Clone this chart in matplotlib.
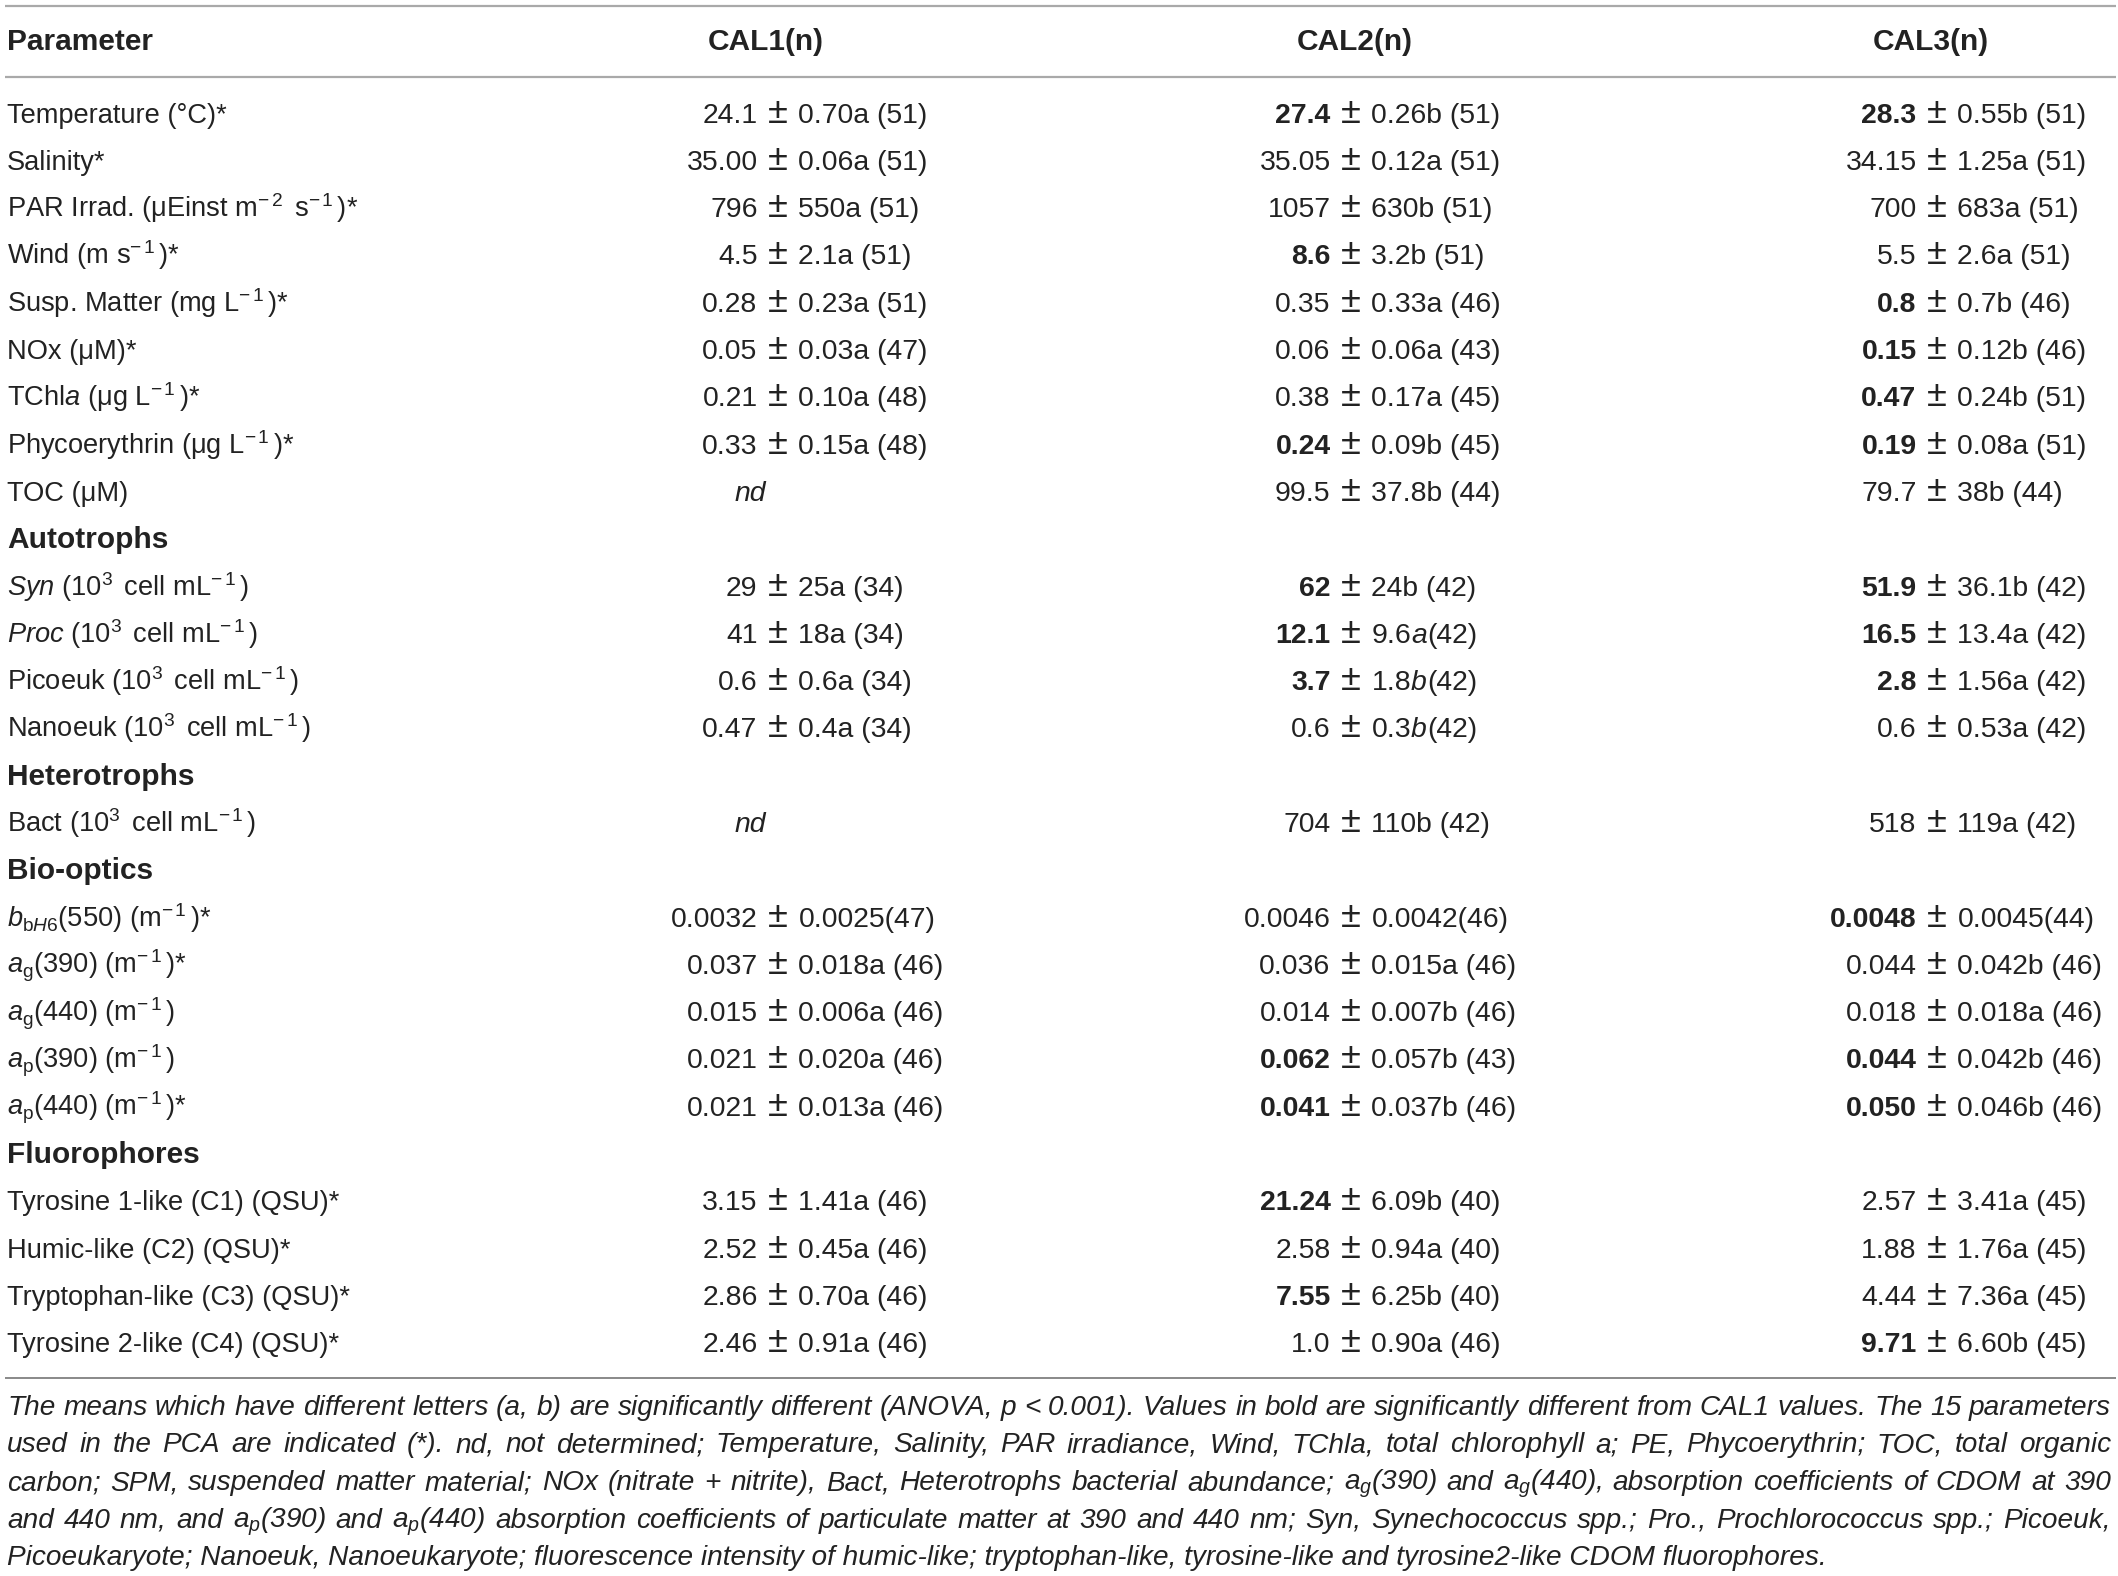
import matplotlib
matplotlib.use("Agg")
import matplotlib.pyplot as plt
import re

FONT = "Liberation Sans"
plt.rcParams['font.family'] = [FONT, 'DejaVu Sans']
plt.rcParams['mathtext.fontset'] = 'custom'
plt.rcParams['mathtext.rm'] = FONT
plt.rcParams['mathtext.it'] = FONT + ':italic'
plt.rcParams['mathtext.bf'] = FONT + ':bold'
plt.rcParams['mathtext.sf'] = FONT

# ---------------- data ----------------
headers = ["Parameter", "CAL1(n)", "CAL2(n)", "CAL3(n)"]

parameters = [
    "Temperature (°C)*",
    "Salinity*",
    r"PAR Irrad. (μEinst m$^{-\,2}\,$ s$^{-\,1}\,$)*",
    r"Wind (m s$^{-\,1}\,$)*",
    r"Susp. Matter (mg L$^{-\,1}\,$)*",
    "NOx (μM)*",
    r"TChl$\mathit{a}$ (μg L$^{-\,1}\,$)*",
    r"Phycoerythrin (μg L$^{-\,1}\,$)*",
    "TOC (μM)",
    "Autotrophs",
    r"$\mathit{Syn}$ (10$^{3}\,$ cell mL$^{-\,1}\,$)",
    r"$\mathit{Proc}$ (10$^{3}\,$ cell mL$^{-\,1}\,$)",
    r"Picoeuk (10$^{3}\,$ cell mL$^{-\,1}\,$)",
    r"Nanoeuk (10$^{3}\,$ cell mL$^{-\,1}\,$)",
    "Heterotrophs",
    r"Bact (10$^{3}\,$ cell mL$^{-\,1}\,$)",
    "Bio-optics",
    r"$\mathit{b}_{\mathrm{b}\mathit{H6}}$(550) (m$^{-\,1}\,$)*",
    r"$\mathit{a}_{\mathrm{g}}$(390) (m$^{-\,1}\,$)*",
    r"$\mathit{a}_{\mathrm{g}}$(440) (m$^{-\,1}\,$)",
    r"$\mathit{a}_{\mathrm{p}}$(390) (m$^{-\,1}\,$)",
    r"$\mathit{a}_{\mathrm{p}}$(440) (m$^{-\,1}\,$)*",
    "Fluorophores",
    "Tyrosine 1-like (C1) (QSU)*",
    "Humic-like (C2) (QSU)*",
    "Tryptophan-like (C3) (QSU)*",
    "Tyrosine 2-like (C4) (QSU)*",
]

sections = ["Autotrophs", "Heterotrophs", "Bio-optics", "Fluorophores"]

# "**x**" = bold mean, "*x*" = italic letter, "nd" = not determined
cal1 = [
    "24.1 ± 0.70a (51)", "35.00 ± 0.06a (51)", "796 ± 550a (51)", "4.5 ± 2.1a (51)",
    "0.28 ± 0.23a (51)", "0.05 ± 0.03a (47)", "0.21 ± 0.10a (48)", "0.33 ± 0.15a (48)",
    "nd",
    None,
    "29 ± 25a (34)", "41 ± 18a (34)", "0.6 ± 0.6a (34)", "0.47 ± 0.4a (34)",
    None,
    "nd",
    None,
    "0.0032 ± 0.0025(47)", "0.037 ± 0.018a (46)", "0.015 ± 0.006a (46)",
    "0.021 ± 0.020a (46)", "0.021 ± 0.013a (46)",
    None,
    "3.15 ± 1.41a (46)", "2.52 ± 0.45a (46)", "2.86 ± 0.70a (46)", "2.46 ± 0.91a (46)",
]

cal2 = [
    "**27.4** ± 0.26b (51)", "35.05 ± 0.12a (51)", "1057 ± 630b (51)", "**8.6** ± 3.2b (51)",
    "0.35 ± 0.33a (46)", "0.06 ± 0.06a (43)", "0.38 ± 0.17a (45)", "**0.24** ± 0.09b (45)",
    "99.5 ± 37.8b (44)",
    None,
    "**62** ± 24b (42)", "**12.1** ± 9.6*a*(42)", "**3.7** ± 1.8*b*(42)", "0.6 ± 0.3*b*(42)",
    None,
    "704 ± 110b (42)",
    None,
    "0.0046 ± 0.0042(46)", "0.036 ± 0.015a (46)", "0.014 ± 0.007b (46)",
    "**0.062** ± 0.057b (43)", "**0.041** ± 0.037b (46)",
    None,
    "**21.24** ± 6.09b (40)", "2.58 ± 0.94a (40)", "**7.55** ± 6.25b (40)", "1.0 ± 0.90a (46)",
]

cal3 = [
    "**28.3** ± 0.55b (51)", "34.15 ± 1.25a (51)", "700 ± 683a (51)", "5.5 ± 2.6a (51)",
    "**0.8** ± 0.7b (46)", "**0.15** ± 0.12b (46)", "**0.47** ± 0.24b (51)", "**0.19** ± 0.08a (51)",
    "79.7 ± 38b (44)",
    None,
    "**51.9** ± 36.1b (42)", "**16.5** ± 13.4a (42)", "**2.8** ± 1.56a (42)", "0.6 ± 0.53a (42)",
    None,
    "518 ± 119a (42)",
    None,
    "**0.0048** ± 0.0045(44)", "0.044 ± 0.042b (46)", "0.018 ± 0.018a (46)",
    "**0.044** ± 0.042b (46)", "**0.050** ± 0.046b (46)",
    None,
    "2.57 ± 3.41a (45)", "1.88 ± 1.76a (45)", "4.44 ± 7.36a (45)", "**9.71** ± 6.60b (45)",
]

note_lines = [
    "The means which have different letters (a, b) are significantly different (ANOVA, p < 0.001). "
    "Values in bold are significantly different from CAL1 values. The 15 parameters",
    "used in the PCA are indicated (*). nd, not determined; Temperature, Salinity, PAR irradiance, "
    "Wind, TChla, total chlorophyll a; PE, Phycoerythrin; TOC, total organic",
    r"carbon; SPM, suspended matter material; NOx (nitrate + nitrite), Bact, Heterotrophs bacterial "
    r"abundance; a$_{\mathit{g}}$(390) and a$_{\mathit{g}}$(440), absorption coefficients of CDOM at 390",
    r"and 440 nm, and a$_{\mathit{p}}$(390) and a$_{\mathit{p}}$(440) absorption coefficients of "
    r"particulate matter at 390 and 440 nm; Syn, Synechococcus spp.; Pro., Prochlorococcus spp.; Picoeuk,",
    "Picoeukaryote; Nanoeuk, Nanoeukaryote; fluorescence intensity of humic-like; tryptophan-like, "
    "tyrosine-like and tyrosine2-like CDOM fluorophores.",
]

# ---------------- layout ----------------
W, H = 2118, 1576
TXT = "#222222"
fig = plt.figure(figsize=(W / 100, H / 100), dpi=100)
ax = fig.add_axes([0, 0, 1, 1])
ax.set_xlim(0, W)
ax.set_ylim(H, 0)
ax.axis("off")
renderer = fig.canvas.get_renderer()


def width(s, **kw):
    t = ax.text(0, 0, s, **kw)
    w = t.get_window_extent(renderer).width
    t.remove()
    return w


body_fs = 10 * 221 / width("Temperature (°C)*", fontsize=10)
bold_fs = 10 * 146 / width("Parameter", fontsize=10, fontweight="bold")
note_fs = 10 * 1824 / width(note_lines[-1], fontsize=10, fontstyle="italic")
val_fs = body_fs * 1.04

BODY = dict(fontsize=body_fs, color=TXT, va="baseline")
VAL = dict(fontsize=val_fs, color=TXT, va="baseline")
VBOLD = dict(fontsize=val_fs, color=TXT, va="baseline", fontweight="bold")
VITAL = dict(fontsize=val_fs, color=TXT, va="baseline", fontstyle="italic")
PM = dict(fontsize=val_fs * 1.28, color=TXT, va="baseline")
HEAD = dict(fontsize=bold_fs, color=TXT, va="baseline", fontweight="bold")

gap = 10.5
pm_w = width("±", **PM)

label_x = 7
pm_x = [778, 1351, 1937]
head_x = [766, 1355, 1931]
header_base = 50
row0 = 122.5
step = 47.3


def run_list(s):
    runs = []
    for piece in re.split(r"(\*[^*]+\*)", s):
        if not piece:
            continue
        if piece.startswith("*"):
            runs.append((piece[1:-1], VITAL))
        else:
            runs.append((piece, VAL))
    return runs


def draw_runs(x, y, runs, ha="left"):
    ws = [width(s, **st) for s, st in runs]
    total = sum(ws)
    if ha == "right":
        x = x - total
    for (s, st), w in zip(runs, ws):
        ax.text(x, y, s, ha="left", **st)
        x += w


def draw_cell(cx, y, s):
    if s == "nd":
        ax.text(cx - 28, y, "nd", ha="center", **VITAL)
        return
    left, right = s.split(" ± ")
    if left.startswith("**"):
        lrun = [(left.strip("*"), VBOLD)]
    else:
        lrun = [(left, VAL)]
    ax.text(cx, y, "±", ha="center", **PM)
    draw_runs(cx - pm_w / 2 - gap, y, lrun, ha="right")
    draw_runs(cx + pm_w / 2 + gap, y, run_list(right), ha="left")


# rules
ax.plot([5, W - 2], [5.5, 5.5], color="#a9a9a9", lw=1.6, solid_capstyle="butt")
ax.plot([5, W - 2], [77, 77], color="#a9a9a9", lw=1.6, solid_capstyle="butt")
ax.plot([5, W - 2], [1378, 1378], color="#6a6a6a", lw=1.1, solid_capstyle="butt")

# header
ax.text(label_x, header_base, headers[0], ha="left", **HEAD)
for hx, h in zip(head_x, headers[1:]):
    ax.text(hx, header_base, h, ha="center", **HEAD)

# body
for i, p in enumerate(parameters):
    y = row0 + step * i
    if p in sections:
        ax.text(label_x, y, p, ha="left", **HEAD)
        continue
    ax.text(label_x, y, p, ha="left", **BODY)
    for cx, col in zip(pm_x, (cal1, cal2, cal3)):
        if col[i] is not None:
            draw_cell(cx, y, col[i])

# footnote (justified)
NOTE = dict(fontsize=note_fs, color=TXT, va="baseline", fontstyle="italic")
note_left, note_right = 7, 2111
for k, line in enumerate(note_lines):
    y = 1415 + 37.5 * k
    if k == len(note_lines) - 1:
        ax.text(note_left, y, line, ha="left", **NOTE)
        continue
    words = line.split(" ")
    ws = [width(w, **NOTE) for w in words]
    g = (note_right - note_left - sum(ws)) / (len(words) - 1)
    x = note_left
    for w, ww in zip(words, ws):
        ax.text(x, y, w, ha="left", **NOTE)
        x += ww + g

fig.savefig("out.png", dpi=100)
